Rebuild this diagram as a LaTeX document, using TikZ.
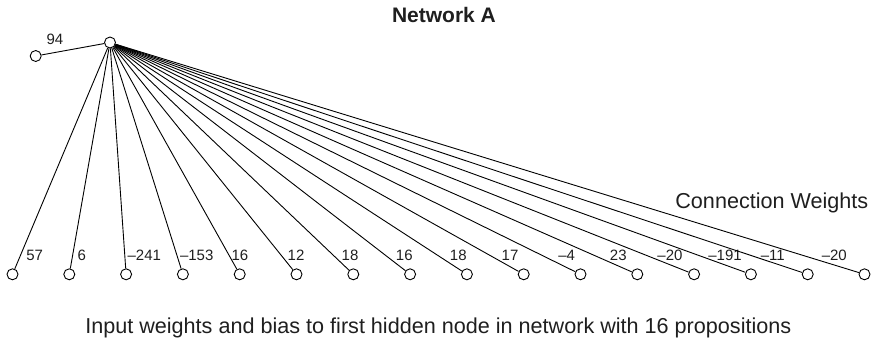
\documentclass[tikz,border=0pt]{standalone}
\usepackage{fontspec}
\setmainfont{Liberation Sans}
\begin{document}
\begin{tikzpicture}[x=1pt,y=-1pt,
  every node/.style={text=black!88},
  unit/.style={circle,draw,fill=white,line width=0.9pt,minimum size=11pt,inner sep=0pt},
  wlabel/.style={anchor=base,inner sep=0pt,font=\fontsize{15}{18}\selectfont},
  link/.style={line width=0.9pt},
  bigtext/.style={inner sep=0pt,font=\fontsize{21.6}{25}\selectfont}]
\useasboundingbox (0,0) rectangle (876,343);

% title
\node[inner sep=0pt,font=\fontsize{21}{25}\selectfont\bfseries,anchor=base] (title) at (444,22.5) {Network A};

% hidden node and its bias
\node[unit] (h) at (110,42.5) {};
\node[unit] (b) at (35.7,56) {};
\node[wlabel] (bw) at (55,44) {94};
\draw[link] (b) -- (h);

% input units, links and weights
\foreach \i/\w/\lx in {0/57/34.7, 1/6/81.7, 2/\textendash241/144.3, 3/\textendash153/196.7,
  4/16/240, 5/12/296, 6/18/350, 7/16/404.3, 8/18/458.3, 9/17/510,
  10/\textendash4/566.7, 11/23/618.3, 12/\textendash20/670, 13/\textendash191/725,
  14/\textendash11/772.7, 15/\textendash20/834.3} {
  \node[unit] (i\i) at ({12.5+56.8*\i},274.3) {};
  \draw[link] (h) -- (i\i);
  \node[wlabel] (w\i) at (\lx,260) {\w};
}

\node[bigtext,anchor=base east] (cw) at (868.5,208) {Connection Weights};

\node[bigtext,anchor=base] (cap) at (438.3,333) {Input weights and bias to first hidden node in network with 16 propositions};
\end{tikzpicture}
\end{document}
